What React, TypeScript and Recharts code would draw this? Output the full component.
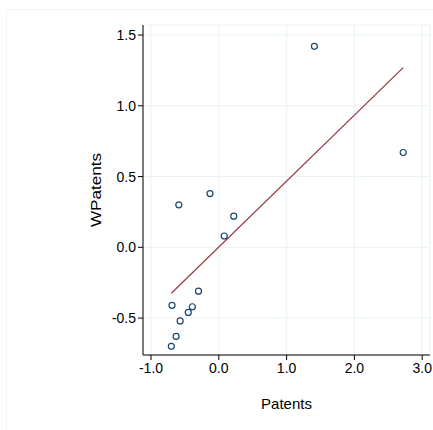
import { CartesianGrid, ReferenceLine, Scatter, ScatterChart, XAxis, YAxis } from "recharts";

// Patents (x) vs spatially lagged WPatents (y), with a linear fit.
const patents = [-0.59, -0.13, 0.22, 0.08, -0.3, -0.69, -0.39, -0.45, -0.57, -0.63, -0.7, 1.41, 2.72];
const wPatents = [0.3, 0.38, 0.22, 0.08, -0.31, -0.41, -0.42, -0.46, -0.52, -0.63, -0.7, 1.42, 0.67];
const fitX = [-0.7, 2.72];
const fitY = [-0.325, 1.27];
const xTicks = [-1, 0, 1, 2, 3];
const yTicks = [-0.5, 0, 0.5, 1, 1.5];

const points = patents.map((x, i) => ({ x, y: wPatents[i] }));
const fitSegment = fitX.map((x, i) => ({ x, y: fitY[i] }));

const FONT = "Arial, 'Liberation Sans', sans-serif";
const TICK = { fontSize: 14, fill: "#000", fontFamily: FONT } as const;
const AXIS = { stroke: "#000", strokeWidth: 1 } as const;
const MAROON = "#93383e";

const Ring = (props: any) => (
  <circle cx={props.cx} cy={props.cy} r={3} fill="none" stroke="#1a476f" strokeWidth={1.2} />
);

// rotated y title; the reference draws it a bit stretched along its baseline
const YTitle = (props: any) => {
  const vb = props.viewBox || {};
  const cx = vb.x + vb.width / 2;
  const cy = vb.y + vb.height / 2;
  return (
    <text
      x={cx}
      y={cy}
      transform={`rotate(-90 ${cx} ${cy})`}
      textAnchor="middle"
      dominantBaseline="central"
      fontSize={15}
      fontFamily={FONT}
      fill="#000"
      textLength={74}
      lengthAdjust="spacingAndGlyphs"
    >
      WPatents
    </text>
  );
};

export default function App() {
  return (
    <div style={{ position: "fixed", left: 0, top: 0, width: 433, height: 430, background: "#fff", fontFamily: FONT }}>
      {/* faint outer frame of the graph region */}
      <div
        style={{
          position: "absolute",
          left: 6,
          top: 9,
          right: 0,
          bottom: 0,
          borderLeft: "1px solid #f1f4f4",
          borderTop: "1px solid #f1f4f4",
        }}
      />
      <ScatterChart
        width={433}
        height={430}
        margin={{ top: 25, right: 3, left: 47, bottom: 0 }}
        style={{ position: "absolute", left: 0, top: 0 }}
      >
        <CartesianGrid stroke="#eaf2f3" strokeWidth={1} />
        <XAxis
          type="number"
          dataKey="x"
          domain={[-1.118, 3.115]}
          ticks={xTicks}
          tickFormatter={(v) => v.toFixed(1)}
          height={75}
          axisLine={AXIS}
          tickLine={AXIS}
          tickSize={5}
          tickMargin={3}
          fontSize={14}
          tick={TICK}
          label={{ value: "Patents", position: "center", dy: 11, fontSize: 15, fill: "#000" }}
        />
        <YAxis
          type="number"
          dataKey="y"
          domain={[-0.761, 1.571]}
          ticks={yTicks}
          tickFormatter={(v) => v.toFixed(1)}
          width={96}
          axisLine={AXIS}
          tickLine={AXIS}
          tickSize={5}
          tickMargin={2}
          fontSize={14}
          tick={TICK}
          label={{ content: YTitle }}
        />
        <ReferenceLine
          segment={fitSegment}
          stroke={MAROON}
          strokeWidth={1.2}
          ifOverflow="visible"
        />
        <Scatter data={points} shape={Ring} isAnimationActive={false} />
      </ScatterChart>
    </div>
  );
}
